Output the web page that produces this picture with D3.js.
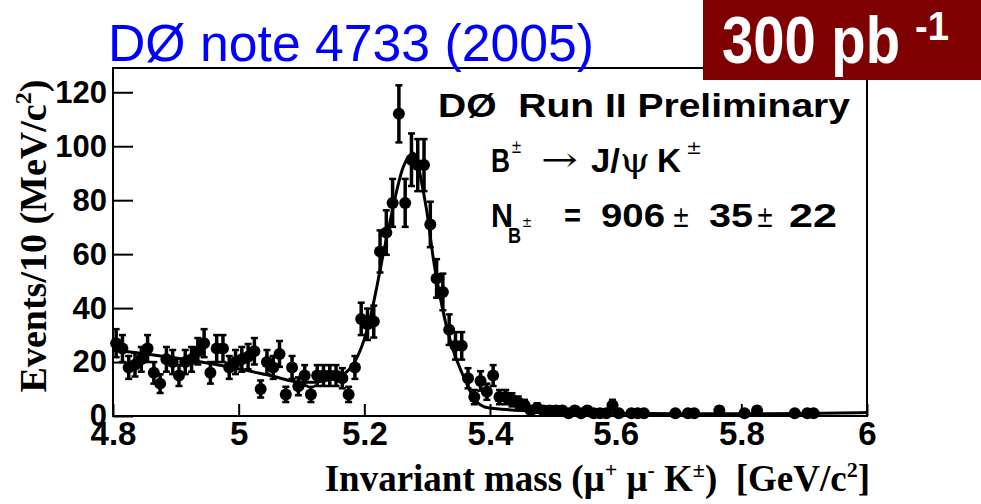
<!DOCTYPE html>
<html lang="en">
<head>
<meta charset="utf-8">
<title>B+ -> J/psi K+ mass</title>
<script src="https://cdn.jsdelivr.net/npm/d3@7"></script>
<style>
	body { margin: 0; background: #fff; }
	svg { display: block; }
	.sans { font-family: "Liberation Sans", Arial, Helvetica, sans-serif; font-weight: bold; }
	.serif { font-family: "Liberation Serif", "Times New Roman", serif; font-weight: bold; }
	.sym { font-family: "DejaVu Serif", "Liberation Serif", serif; font-weight: normal; }
</style>
</head>
<body>
<div id="chart"></div>
<script>
// histogram: 10 MeV bins starting at 4.80 GeV (120 bins up to 6.00)
var massLo = 4.8, binWidth = 0.01;
var counts = [
	27, 25, 18, 19, 21, 25, 16, 12, 21, 20, 15, 20, 21, 24, 27, 16, 25, 25, 18, 20,   // 4.80 - 4.99
	21, 22, 24, 10, 20, 18, 23,  8, 18, 11, 15,  8, 15, 15, 15, 15, 14,  8, 18, 36,   // 5.00 - 5.19
	34, 35, 61, 68, 79,112, 79, 95, 93, 93, 71, 51, 46, 32, 26, 26, 14,  7, 13,  9,   // 5.20 - 5.39
	15,  7,  7,  6,  5,  4,  2,  3,  2,  2,  2,  2,  1,  2,  1,  2,  1,  1,  1,  4,   // 5.40 - 5.59
	 1,  0,  1,  1,  1,  0,  0,  0,  0,  1,  0,  1,  1,  0,  0,  0,  2,  0,  0,  0,   // 5.60 - 5.79
	 1,  0,  2,  0,  0,  0,  0,  0,  1,  0,  1,  1,  0,  0,  0,  0,  0,  0,  0,  0    // 5.80 - 5.99
];

// fitted curve
var fitMass  = [4.80, 4.90, 5.00, 5.05, 5.10, 5.12, 5.14, 5.16, 5.17, 5.18, 5.19, 5.20, 5.21, 5.22, 5.23, 5.24, 5.25, 5.26, 5.27, 5.278, 5.285, 5.29, 5.30, 5.31, 5.32, 5.33, 5.34, 5.35, 5.36, 5.37, 5.38, 5.39, 5.40, 5.42, 5.45, 5.50, 5.60, 5.70, 5.80, 5.90, 6.00];
var fitValue = [24.5, 21.5, 17.5, 15.0, 12.5, 12.5, 13.2, 14.5, 16.0, 18.5, 22.5, 28.5, 37.0, 48.0, 60.0, 71.0, 82.0, 91.0, 96.0, 97.5, 94.0, 88.0, 75.0, 58.0, 45.0, 34.0, 25.5, 19.0, 13.5, 8.5, 5.0, 3.5, 3.0, 2.5, 2.0, 1.5, 1.0, 0.8, 0.8, 0.9, 1.3];

var xTicks = [4.8, 5.0, 5.2, 5.4, 5.6, 5.8, 6.0];
var xTickLabels = ["4.8", "5", "5.2", "5.4", "5.6", "5.8", "6"];
var yTicks = [0, 20, 40, 60, 80, 100, 120];

var W = 981, H = 504;
var plot = {left: 113, right: 867, top: 68, bottom: 416};

var svg = d3.select("#chart").append("svg")
	.attr("width", W)
	.attr("height", H);

var x = d3.scaleLinear().domain([4.8, 6.0]).range([plot.left, plot.right]);
var y = d3.scaleLinear().domain([0, 129]).range([plot.bottom, plot.top]);

// frame
svg.append("rect")
	.attr("x", plot.left).attr("y", plot.top)
	.attr("width", plot.right - plot.left).attr("height", plot.bottom - plot.top)
	.attr("fill", "none").attr("stroke", "#000").attr("stroke-width", 2);

// ticks (ROOT style, pointing inward)
var xMinor = x.ticks(24);
var yMinor = d3.range(0, 129, 5);

var gx = svg.append("g").attr("transform", "translate(0," + plot.bottom + ")");
gx.call(d3.axisBottom(x).tickValues(xMinor).tickSize(-7).tickFormat(""));
gx.call(d3.axisBottom(x).tickValues(xTicks).tickSize(-12).tickPadding(6)
	.tickFormat(function(d, i) { return xTickLabels[i]; }));

var gy = svg.append("g").attr("transform", "translate(" + plot.left + ",0)");
gy.call(d3.axisLeft(y).tickValues(yMinor).tickSize(-10).tickFormat(""));
gy.call(d3.axisLeft(y).tickValues(yTicks).tickSize(-20).tickPadding(6));

svg.selectAll(".domain").remove();
svg.selectAll(".tick line").attr("stroke", "#000").attr("stroke-width", 2);
gx.selectAll("text").attr("class", "sans").attr("font-size", 33).attr("fill", "#000");
gy.selectAll("text").attr("class", "sans").attr("font-size", 31).attr("fill", "#000");

// fit curve
var line = d3.line()
	.x(function(d, i) { return x(fitMass[i]); })
	.y(function(d) { return y(d); })
	.curve(d3.curveMonotoneX);

svg.append("path")
	.datum(fitValue)
	.attr("d", line)
	.attr("fill", "none")
	.attr("stroke", "#000")
	.attr("stroke-width", 3);

// data points with sqrt(N) errors, empty bins not drawn
var pts = [];
counts.forEach(function(n, i) {
	if (n > 0) pts.push({m: massLo + (i + 0.5) * binWidth, n: n});
});

var pg = svg.append("g");
pg.selectAll("line.err").data(pts).enter().append("line")
	.attr("class", "err")
	.attr("x1", function(d) { return x(d.m); })
	.attr("x2", function(d) { return x(d.m); })
	.attr("y1", function(d) { return y(d.n - Math.sqrt(d.n)); })
	.attr("y2", function(d) { return y(d.n + Math.sqrt(d.n)); })
	.attr("stroke", "#000").attr("stroke-width", 3.5);

// little end caps
["lo", "hi"].forEach(function(side) {
	pg.selectAll("line.cap" + side).data(pts).enter().append("line")
		.attr("class", "cap" + side)
		.attr("x1", function(d) { return x(d.m) - 3.5; })
		.attr("x2", function(d) { return x(d.m) + 3.5; })
		.attr("y1", function(d) { return y(side == "lo" ? d.n - Math.sqrt(d.n) : d.n + Math.sqrt(d.n)); })
		.attr("y2", function(d) { return y(side == "lo" ? d.n - Math.sqrt(d.n) : d.n + Math.sqrt(d.n)); })
		.attr("stroke", "#000").attr("stroke-width", 2.5);
});

pg.selectAll("circle").data(pts).enter().append("circle")
	.attr("cx", function(d) { return x(d.m); })
	.attr("cy", function(d) { return y(d.n); })
	.attr("r", 6)
	.attr("fill", "#000");

// helper for text pieces squeezed to a measured width
function txt(cls, x0, y0, s, size, width, fill) {
	var t = svg.append("text")
		.attr("class", cls)
		.attr("x", x0).attr("y", y0)
		.attr("font-size", size)
		.attr("fill", fill || "#000")
		.text(s);
	if (width) t.attr("textLength", width).attr("lengthAdjust", "spacingAndGlyphs");
	return t;
}

// axis titles
var yt = svg.append("text")
	.attr("class", "serif")
	.attr("font-size", 38)
	.attr("text-anchor", "middle")
	.attr("transform", "translate(46,236) rotate(-90)");
yt.append("tspan").text("Events/10 (MeV/c");
yt.append("tspan").attr("font-size", 24).attr("dy", -15).text("2");
yt.append("tspan").attr("dy", 15).text(")");

var xt = svg.append("text")
	.attr("class", "serif")
	.attr("font-size", 37)
	.attr("text-anchor", "end")
	.attr("x", 870).attr("y", 491);
xt.append("tspan").text("Invariant mass (\u03bc");
xt.append("tspan").attr("font-size", 22).attr("dy", -14).text("+");
xt.append("tspan").attr("dy", 14).text(" \u03bc");
xt.append("tspan").attr("font-size", 22).attr("dy", -14).text("-");
xt.append("tspan").attr("dy", 14).text(" K");
xt.append("tspan").attr("font-size", 22).attr("dy", -14).text("\u00b1");
xt.append("tspan").attr("dy", 14).text(")\u00a0 [GeV/c");
xt.append("tspan").attr("font-size", 22).attr("dy", -14).text("2");
xt.append("tspan").attr("dy", 14).text("]");

// legend text inside the pad
txt("sans", 438, 117, "D\u00d8\u00a0 Run II Preliminary", 33, 412);

txt("sans", 491, 172, "B", 34, 19);
txt("sym", 511, 153, "\u00b1", 18, 11);
txt("sym", 541, 171, "\u2192", 34, 37);
txt("sans", 591, 172, "J/", 34, 29);
txt("sym", 620, 172, "\u03c8", 34, 30);
txt("sans", 657, 172, "K", 34, 24);
txt("sym", 686, 154, "\u00b1", 19, 16);

txt("sans", 491, 227, "N", 34, 22);
txt("sans", 508, 243, "B", 22, 13);
txt("sym", 522, 227, "\u00b1", 14, 10);
txt("sans", 564, 227, "=", 34, 17);
txt("sans", 601, 227, "906", 34, 64);
txt("sym", 672, 227, "\u00b1", 30, 18);
txt("sans", 709, 227, "35", 34, 44);
txt("sym", 756, 227, "\u00b1", 30, 18);
txt("sans", 789, 227, "22", 34, 48);

// header: note reference and luminosity box
txt("", 108, 61, "D\u00d8 note 4733 (2005)", 52, 486, "#0000ff")
	.attr("font-family", "'Liberation Sans', Arial, sans-serif");

svg.append("rect")
	.attr("x", 703).attr("y", 0)
	.attr("width", W - 703).attr("height", 80)
	.attr("fill", "#7f0000");
txt("sans", 722, 63, "300 pb", 66, 178, "#fff");
txt("sans", 915, 40, "-1", 40, 34, "#fff");
</script>
</body>
</html>
